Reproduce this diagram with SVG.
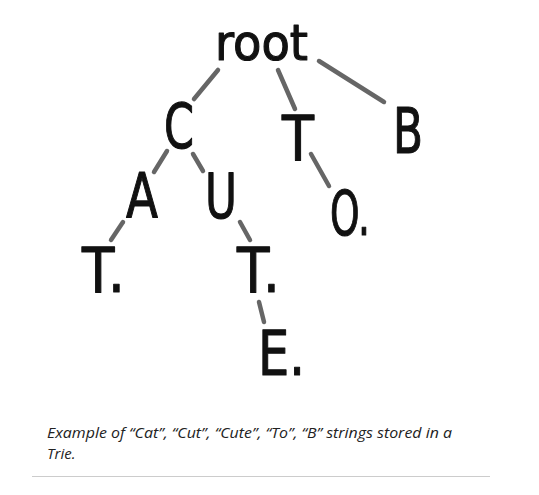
<svg xmlns="http://www.w3.org/2000/svg" width="539" height="495" viewBox="0 0 539 495">
<style>
.n{font-family:"DejaVu Sans",sans-serif;font-size:62px;fill:#111;stroke:#111;stroke-width:1.2;stroke-linejoin:round}
.e{stroke:#666;stroke-width:4.5;stroke-linecap:round;fill:none}
.cap{font-family:"Open Sans",sans-serif;font-style:italic;font-size:15px;fill:#222}
</style>
<rect width="539" height="495" fill="#fff"/>
<g id="connectors">
<line class="e" x1="218" y1="70" x2="194" y2="99"/>
<line class="e" x1="278" y1="70" x2="295" y2="109"/>
<line class="e" x1="319" y1="61" x2="384" y2="102"/>
<line class="e" x1="167" y1="151" x2="154" y2="172"/>
<line class="e" x1="193" y1="154" x2="203" y2="171"/>
<line class="e" x1="311" y1="154" x2="329" y2="186"/>
<line class="e" x1="123" y1="222" x2="111" y2="240"/>
<line class="e" x1="240" y1="222" x2="250" y2="240"/>
<line class="e" x1="259" y1="302" x2="264" y2="322"/>
</g>
<g id="root"><text class="n" x="215" y="60" style="font-size:50px" textLength="93" lengthAdjust="spacingAndGlyphs">root</text></g>
<g id="C"><text class="n" x="164" y="148" textLength="30" lengthAdjust="spacingAndGlyphs">C</text></g>
<g id="T"><text class="n" x="282" y="160" textLength="32" lengthAdjust="spacingAndGlyphs">T</text></g>
<g id="B"><text class="n" x="393" y="153" textLength="30" lengthAdjust="spacingAndGlyphs">B</text></g>
<g id="A"><text class="n" x="126" y="218" textLength="32" lengthAdjust="spacingAndGlyphs">A</text></g>
<g id="U"><text class="n" x="205" y="218" textLength="32" lengthAdjust="spacingAndGlyphs">U</text></g>
<g id="O"><text class="n" x="330" y="235" textLength="40" lengthAdjust="spacingAndGlyphs">O.</text></g>
<g id="T1"><text class="n" x="82" y="292" textLength="43" lengthAdjust="spacingAndGlyphs">T.</text></g>
<g id="T2"><text class="n" x="237" y="292" textLength="43" lengthAdjust="spacingAndGlyphs">T.</text></g>
<g id="E"><text class="n" x="258" y="375" textLength="47" lengthAdjust="spacingAndGlyphs">E.</text></g>
<g id="caption">
<text class="cap" x="47" y="437.5" textLength="405" lengthAdjust="spacingAndGlyphs">Example of “Cat”, “Cut”, “Cute”, “To”, “B” strings stored in a</text>
<text class="cap" x="47" y="459">Trie.</text>
</g>
<line x1="32" y1="476.5" x2="490" y2="476.5" stroke="#ccc" stroke-width="1"/>
</svg>
